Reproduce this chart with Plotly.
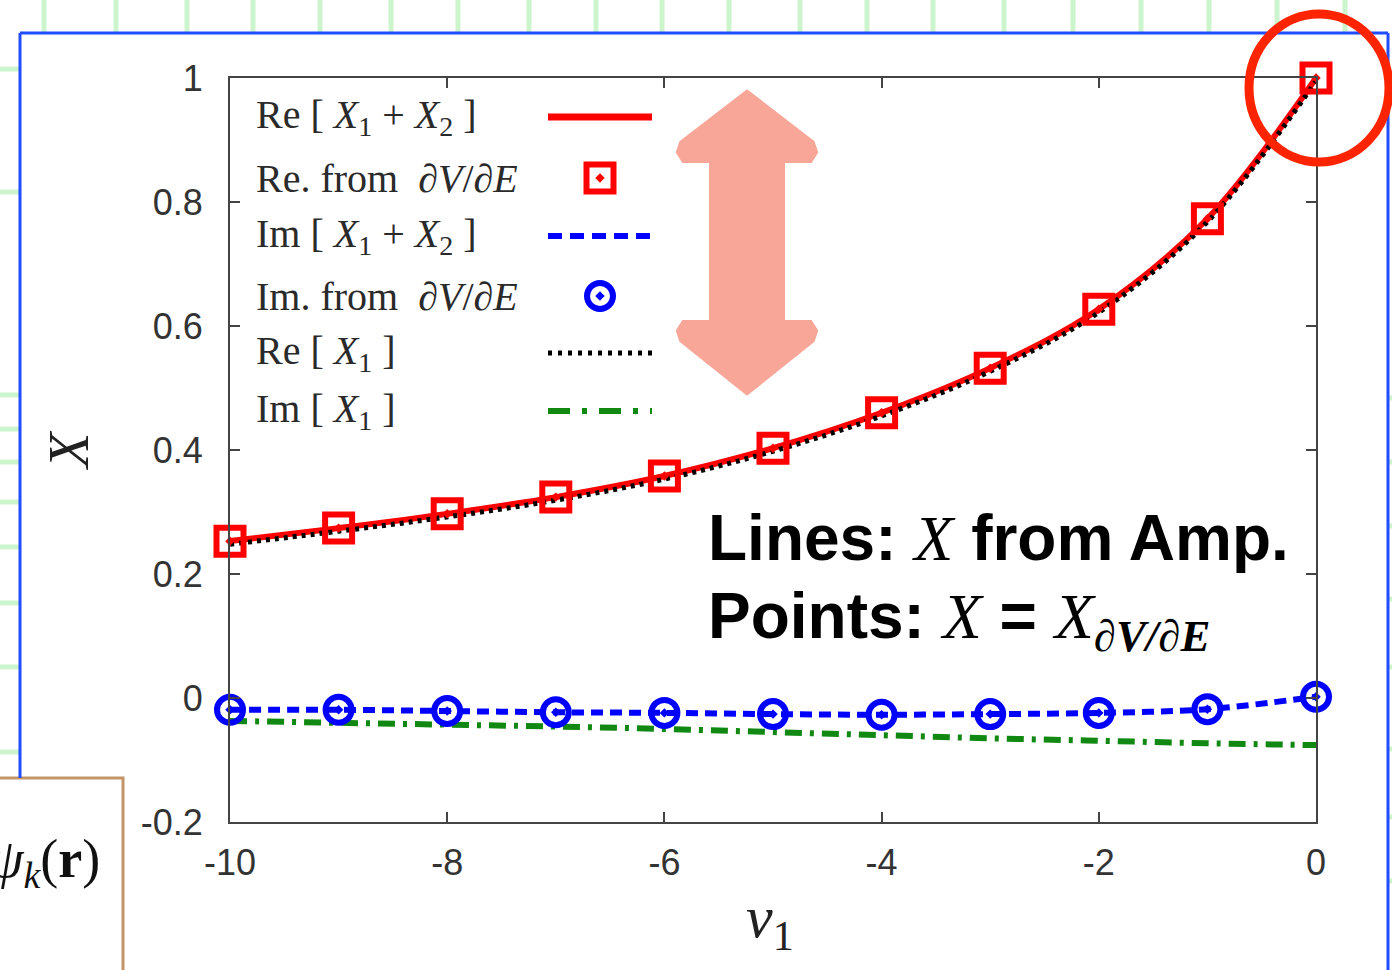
import plotly.graph_objects as go

# ---------------- data ----------------
v1 = [-10, -9, -8, -7, -6, -5, -4, -3, -2, -1, 0]
re_x1x2 = [0.253, 0.274, 0.297, 0.324, 0.358, 0.403, 0.460, 0.532, 0.627, 0.773, 1.000]
re_dvde = [0.253, 0.274, 0.297, 0.324, 0.358, 0.403, 0.460, 0.532, 0.627, 0.773, 1.000]
im_x1x2 = [-0.019, -0.019, -0.021, -0.023, -0.024, -0.026, -0.027, -0.026, -0.024, -0.018, 0.002]
im_dvde = [-0.019, -0.019, -0.021, -0.023, -0.024, -0.026, -0.027, -0.026, -0.024, -0.018, 0.002]
re_x1 = [0.248, 0.269, 0.292, 0.319, 0.353, 0.398, 0.455, 0.527, 0.622, 0.768, 0.995]
im_x1 = [-0.037, -0.040, -0.043, -0.046, -0.050, -0.055, -0.060, -0.065, -0.069, -0.073, -0.076]

x_ticks = [-10, -8, -6, -4, -2, 0]
x_ticktext = ['-10', '-8', '-6', '-4', '-2', '0']
y_ticks = [-0.2, 0, 0.2, 0.4, 0.6, 0.8, 1.0]
y_ticktext = ['-0.2', '0', '0.2', '0.4', '0.6', '0.8', '1']

legend_labels = [
    'Re [ <i>X</i><sub>1</sub> + <i>X</i><sub>2</sub> ]',
    'Re. from \u00a0\u2202<i>V</i>/\u2202<i>E</i>',
    'Im [ <i>X</i><sub>1</sub> + <i>X</i><sub>2</sub> ]',
    'Im. from \u00a0\u2202<i>V</i>/\u2202<i>E</i>',
    'Re [ <i>X</i><sub>1</sub> ]',
    'Im [ <i>X</i><sub>1</sub> ]',
]

# ---------------- geometry helpers (figure pixels -> paper) ----------------
W, H = 1392, 970
L, R, T, B = 230, 1316, 78, 822


def px(x):
    return (x - L) / (R - L)


def py(y):
    return (B - y) / (B - T)


RED = '#ff0000'
BLUE = '#0000ff'
GREEN = '#118811'
BLACK = '#000000'
SERIF = 'Liberation Serif'
SANS = 'Liberation Sans'

fig = go.Figure()

# ---------------- data traces ----------------
fig.add_trace(go.Scatter(x=v1, y=re_x1x2, mode='lines', line=dict(color=RED, width=6, shape='spline'),
                         showlegend=False, cliponaxis=False))
fig.add_trace(go.Scatter(x=v1, y=re_x1, mode='lines',
                         line=dict(color=BLACK, width=5, shape='spline', dash='4px,5px'),
                         showlegend=False, cliponaxis=False))
fig.add_trace(go.Scatter(x=v1, y=re_dvde, mode='markers',
                         marker=dict(symbol='square-open-dot', size=27, color=RED, line=dict(width=6, color=RED)),
                         showlegend=False, cliponaxis=False))
fig.add_trace(go.Scatter(x=v1, y=im_x1, mode='lines',
                         line=dict(color=GREEN, width=6, shape='spline', dash='17px,8px,4px,8px'),
                         showlegend=False, cliponaxis=False))
fig.add_trace(go.Scatter(x=v1, y=im_x1x2, mode='lines',
                         line=dict(color=BLUE, width=6, shape='spline', dash='12px,7px'),
                         showlegend=False, cliponaxis=False))
fig.add_trace(go.Scatter(x=v1, y=im_dvde, mode='markers',
                         marker=dict(symbol='circle-open-dot', size=26, color=BLUE, line=dict(width=6, color=BLUE)),
                         showlegend=False, cliponaxis=False))

# ---------------- hand-made legend (text left, key right) ----------------
row_y = [117, 178, 236, 296, 353, 411]
key_x0, key_x1, key_xc = 548, 652, 600
key_styles = [
    ('line', dict(color=RED, width=7)),
    ('marker', dict(symbol='square-open-dot', size=27, color=RED, line=dict(width=6, color=RED))),
    ('line', dict(color=BLUE, width=6, dash='14px,8px')),
    ('marker', dict(symbol='circle-open-dot', size=26, color=BLUE, line=dict(width=6, color=BLUE))),
    ('line', dict(color=BLACK, width=5, dash='4px,6px')),
    ('line', dict(color=GREEN, width=6, dash='22px,12px,5px,12px')),
]
for yy, (kind, st) in zip(row_y, key_styles):
    if kind == 'line':
        fig.add_trace(go.Scatter(x=[key_x0, key_x1], y=[yy, yy], mode='lines', line=st,
                                 xaxis='x2', yaxis='y2', showlegend=False, cliponaxis=False,
                                 hoverinfo='skip'))
    else:
        fig.add_trace(go.Scatter(x=[key_xc], y=[yy], mode='markers', marker=st,
                                 xaxis='x2', yaxis='y2', showlegend=False, cliponaxis=False,
                                 hoverinfo='skip'))

annotations = []
for yy, lab in zip(row_y, legend_labels):
    annotations.append(dict(x=px(254), y=py(yy), xref='paper', yref='paper', text=lab,
                            xanchor='left', yanchor='middle', showarrow=False,
                            font=dict(family=SERIF, size=40, color='#2a2a2a')))

# axis titles
annotations.append(dict(x=px(68), y=py(450), xref='paper', yref='paper', text='<i>X</i>',
                        textangle=-90, showarrow=False, xanchor='center', yanchor='middle',
                        font=dict(family=SERIF, size=58, color='#222')))
annotations.append(dict(x=px(770), y=py(922), xref='paper', yref='paper', text='<i>v</i><sub>1</sub>',
                        showarrow=False, xanchor='center', yanchor='middle',
                        font=dict(family=SERIF, size=60, color='#222')))

# big text
xs = '<span style="font-family:Liberation Serif;font-style:italic;font-weight:normal">X</span>'
annotations.append(dict(x=px(706), y=py(538), xref='paper', yref='paper',
                        text='Lines: ' + xs + ' from Amp.',
                        showarrow=False, xanchor='left', yanchor='middle',
                        font=dict(family=SANS, size=64, color='#000', weight='bold')))
annotations.append(dict(x=px(706), y=py(620), xref='paper', yref='paper',
                        text='Points: ' + xs + ' = ' + xs +
                        '<sub><span style="font-family:Liberation Serif;font-style:italic">'
                        '<i>\u2202V/\u2202E</i></span></sub>',
                        showarrow=False, xanchor='left', yanchor='middle',
                        font=dict(family=SANS, size=64, color='#000', weight='bold')))

# inset box text (partially cut off at left edge)
annotations.append(dict(x=px(102), y=py(862), xref='paper', yref='paper',
                        text='<i>\u03c8</i><sub><i>k</i></sub>(<b>r</b>)',
                        showarrow=False, xanchor='right', yanchor='middle',
                        font=dict(family=SERIF, size=54, color='#111')))

# ---------------- decorative shapes ----------------
shapes = []
GREEN_BG = '#cdf5cd'
for gx in [44, 116, 187, 253, 320, 391, 458, 529, 596, 662, 729, 800, 867, 933, 1004, 1073, 1141,
           1209, 1277, 1345]:
    shapes.append(dict(type='line', xref='paper', yref='paper', x0=px(gx), x1=px(gx), y0=py(0), y1=py(32),
                       line=dict(color=GREEN_BG, width=5), layer='below'))
for gy in [69, 192, 395, 429, 462, 502, 547, 603, 667, 752]:
    shapes.append(dict(type='line', xref='paper', yref='paper', x0=px(0), x1=px(19), y0=py(gy), y1=py(gy),
                       line=dict(color=GREEN_BG, width=5), layer='below'))
for gy in [398, 462, 526, 599, 667, 749, 817, 881]:
    shapes.append(dict(type='line', xref='paper', yref='paper', x0=px(1389), x1=px(1392), y0=py(gy), y1=py(gy),
                       line=dict(color=GREEN_BG, width=5), layer='below'))

# blue frame
BF = '#1f4dff'
shapes.append(dict(type='line', xref='paper', yref='paper', x0=px(20), x1=px(1388), y0=py(33), y1=py(33),
                   line=dict(color=BF, width=3)))
shapes.append(dict(type='line', xref='paper', yref='paper', x0=px(20), x1=px(20), y0=py(33), y1=py(778),
                   line=dict(color=BF, width=3)))
shapes.append(dict(type='line', xref='paper', yref='paper', x0=px(1388), x1=px(1388), y0=py(33), y1=py(972),
                   line=dict(color=BF, width=3)))

# inset box (brown border)
shapes.append(dict(type='rect', xref='paper', yref='paper', x0=px(-5), x1=px(123), y0=py(778), y1=py(975),
                   line=dict(color='#c39468', width=3), fillcolor='white', layer='below'))

# salmon double arrow
pts = [(747, 93), (812, 143), (815, 152), (810, 160), (782, 160), (782, 323), (810, 323), (815, 331),
       (812, 340), (747, 392), (682, 340), (679, 331), (684, 323), (712, 323), (712, 160), (684, 160),
       (679, 152), (682, 143)]
path = 'M ' + ' L '.join('%.5f,%.5f' % (px(a), py(b)) for a, b in pts) + ' Z'
shapes.append(dict(type='path', xref='paper', yref='paper', path=path,
                   fillcolor='#f8a698', line=dict(color='#f8a698', width=6), layer='above'))

# red hand-drawn circle
shapes.append(dict(type='circle', xref='paper', yref='paper', x0=px(1249), x1=px(1389), y0=py(14), y1=py(162),
                   line=dict(color='#ff2400', width=9)))

fig.update_layout(
    width=W, height=H,
    margin=dict(l=L, r=W - R, t=T, b=H - B, pad=0),
    paper_bgcolor='white', plot_bgcolor='white',
    showlegend=False,
    annotations=annotations,
    shapes=shapes,
    xaxis=dict(range=[-10, 0], tickvals=x_ticks, ticktext=x_ticktext, ticks='inside', ticklen=10, tickwidth=2,
               tickcolor='#444', showline=True, linewidth=2, linecolor='#444', mirror='ticks',
               showgrid=False, zeroline=False, ticklabelstandoff=8,
               tickfont=dict(family=SANS, size=36, color='#333')),
    yaxis=dict(range=[-0.2, 1.0], tickvals=y_ticks, ticktext=y_ticktext, ticks='inside', ticklen=10, tickwidth=2,
               tickcolor='#444', showline=True, linewidth=2, linecolor='#444', mirror='ticks',
               showgrid=False, zeroline=False, ticklabelstandoff=18,
               tickfont=dict(family=SANS, size=36, color='#333')),
    xaxis2=dict(range=[L, R], overlaying='x', visible=False, fixedrange=True),
    yaxis2=dict(range=[B, T], overlaying='y', visible=False, fixedrange=True),
)

fig.write_html('out.html', config={'displayModeBar': False},
               post_script="document.body.style.margin='0';document.body.style.overflow='hidden';")
